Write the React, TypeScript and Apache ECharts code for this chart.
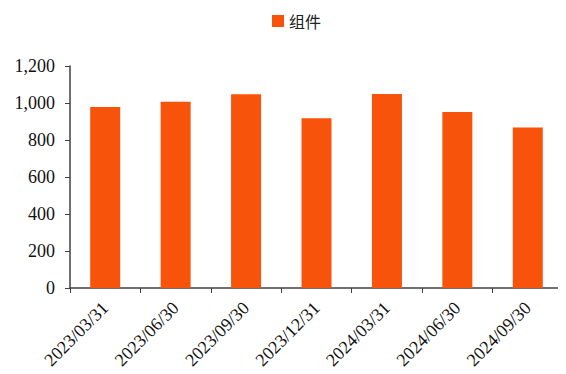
import React, { useEffect, useRef } from "react";
import * as echarts from "echarts";

const categories = ["2023/03/31", "2023/06/30", "2023/09/30", "2023/12/31", "2024/03/31", "2024/06/30", "2024/09/30"];
const seriesName = "组件";
const values = [978, 1007, 1047, 917, 1049, 951, 868];
const yMin = 0;
const yMax = 1200;
const yInterval = 200;

export default function App() {
  const ref = useRef<HTMLDivElement>(null);
  useEffect(() => {
    if (!ref.current) return;
    const chart = echarts.init(ref.current, null, { renderer: "svg" });
    const font = "Liberation Serif, Times New Roman, serif";
    chart.setOption({
      animation: false,
      textStyle: { fontFamily: font },
      legend: {
        data: [seriesName],
        top: 0,
        left: 259,
        icon: "rect",
        itemWidth: 12,
        itemHeight: 12,
        itemGap: 6,
        textStyle: { fontSize: 16, color: "#222", fontFamily: "Noto Sans CJK SC" },
      },
      grid: { left: 62, right: 3, top: 58, bottom: 86, containLabel: false },
      xAxis: {
        type: "category",
        data: categories,
        axisLine: { lineStyle: { color: "#404040", width: 1.5 } },
        axisTick: { show: true, length: 5, lineStyle: { color: "#404040" } },
        axisLabel: { rotate: 45, fontSize: 18, color: "#111", fontFamily: font, margin: 17, interval: 0 },
      },
      yAxis: {
        type: "value",
        min: yMin,
        max: yMax,
        interval: yInterval,
        splitLine: { show: false },
        axisLine: { show: true, lineStyle: { color: "#404040", width: 1.5 } },
        axisTick: { show: true, length: 5, lineStyle: { color: "#404040" } },
        axisLabel: {
          fontSize: 18,
          color: "#111",
          fontFamily: font,
          margin: 15,
          formatter: (v: number) => v.toLocaleString("en-US"),
        },
      },
      series: [
        {
          name: seriesName,
          type: "bar",
          data: values,
          barWidth: 30,
          itemStyle: { color: "#F8530A" },
        },
      ],
    });
    return () => chart.dispose();
  }, []);
  return <div ref={ref} style={{ width: 558, height: 366 }} />;
}
